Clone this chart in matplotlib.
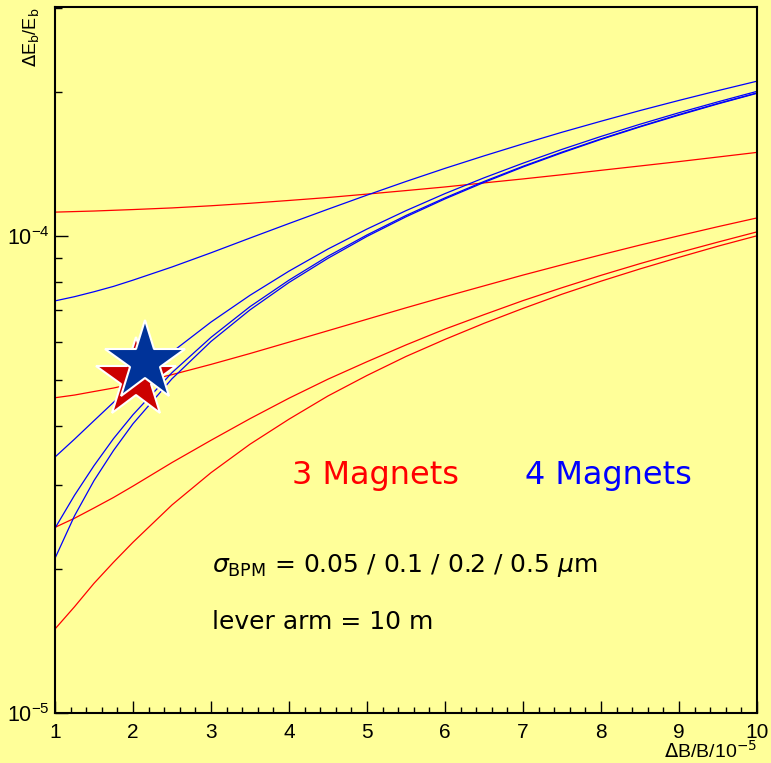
import matplotlib
matplotlib.use("Agg")
import matplotlib.pyplot as plt
from matplotlib.ticker import MultipleLocator, LogLocator, NullFormatter

plt.rcParams["font.family"] = ["Liberation Sans", "DejaVu Sans"]
plt.rcParams["mathtext.fontset"] = "dejavusans"

# dB/B in units of 1e-5
db = [1, 1.25, 1.5, 1.75, 2, 2.5, 3, 3.5, 4, 4.5, 5, 5.5, 6, 6.5, 7, 7.5, 8, 8.5, 9, 9.5, 10]

# dEb/Eb in units of 1e-5, sigma_BPM = 0.5 / 0.2 / 0.1 / 0.05 um
red_3mag = [
    [11.22, 11.25, 11.28, 11.32, 11.36, 11.45, 11.57, 11.71, 11.87, 12.04, 12.24,
     12.45, 12.67, 12.92, 13.17, 13.44, 13.73, 14.02, 14.32, 14.64, 14.97],
    [4.58, 4.64, 4.72, 4.80, 4.90, 5.12, 5.38, 5.67, 5.99, 6.33, 6.69,
     7.07, 7.46, 7.86, 8.28, 8.70, 9.13, 9.57, 10.01, 10.46, 10.91],
    [2.45, 2.56, 2.69, 2.83, 2.99, 3.35, 3.73, 4.14, 4.57, 5.01, 5.45,
     5.91, 6.38, 6.84, 7.32, 7.79, 8.27, 8.75, 9.23, 9.71, 10.20],
    [1.50, 1.67, 1.87, 2.07, 2.28, 2.73, 3.19, 3.66, 4.13, 4.62, 5.10,
     5.59, 6.07, 6.56, 7.05, 7.55, 8.04, 8.53, 9.02, 9.52, 10.01],
]
blue_4mag = [
    [7.31, 7.46, 7.64, 7.84, 8.08, 8.61, 9.22, 9.90, 10.62, 11.38, 12.18,
     13.01, 13.86, 14.72, 15.60, 16.50, 17.40, 18.32, 19.24, 20.17, 21.11],
    [3.44, 3.75, 4.10, 4.48, 4.87, 5.71, 6.60, 7.51, 8.44, 9.39, 10.34,
     11.30, 12.27, 13.24, 14.21, 15.19, 16.17, 17.15, 18.13, 19.11, 20.10],
    [2.44, 2.86, 3.30, 3.76, 4.22, 5.17, 6.13, 7.11, 8.08, 9.07, 10.05,
     11.04, 12.02, 13.01, 14.00, 14.99, 15.98, 16.97, 17.97, 18.96, 19.95],
    [2.11, 2.59, 3.07, 3.55, 4.04, 5.02, 6.01, 7.00, 7.99, 8.98, 9.98,
     10.97, 11.96, 12.95, 13.95, 14.94, 15.94, 16.93, 17.92, 18.92, 19.91],
]

bg = "#ffff99"
fig = plt.figure(figsize=(7.71, 7.63), dpi=100, facecolor=bg)
ax = fig.add_axes([55 / 771, 50 / 763, 702 / 771, 706 / 763], facecolor=bg)

for ys in red_3mag:
    ax.plot(db, [v * 1e-5 for v in ys], color="#ff0000", lw=0.9)
for ys in blue_4mag:
    ax.plot(db, [v * 1e-5 for v in ys], color="#0000ff", lw=0.9)

ax.set_yscale("log")
ax.set_xlim(1, 10)
ax.set_ylim(1e-5, 3.02e-4)

ax.xaxis.set_major_locator(MultipleLocator(1))
ax.xaxis.set_minor_locator(MultipleLocator(0.2))
ax.yaxis.set_major_locator(LogLocator(base=10))
ax.yaxis.set_minor_locator(LogLocator(base=10, subs=range(2, 10)))
ax.yaxis.set_minor_formatter(NullFormatter())
ax.tick_params(which="both", direction="in", top=False, right=False)
ax.tick_params(axis="x", which="major", length=9, width=1, pad=7, labelsize=15)
ax.tick_params(axis="x", which="minor", length=4.5, width=1)
ax.tick_params(axis="y", which="major", length=9.5, width=1, pad=4, labelsize=15.5)
ax.tick_params(axis="y", which="minor", length=5, width=1)
for s in ax.spines.values():
    s.set_linewidth(1.5)

# logo stars
ax.plot(0.115, 0.473, marker="*", ms=60, color="#cc0000", mec="white", mew=1.5,
        transform=ax.transAxes, clip_on=False)
ax.plot(0.128, 0.497, marker="*", ms=60, color="#003399", mec="white", mew=1.5,
        transform=ax.transAxes, clip_on=False)

ax.text(0.338, 0.336, "3 Magnets", color="#ff0000", fontsize=23, family="DejaVu Sans",
        va="center", ha="left", transform=ax.transAxes)
ax.text(0.670, 0.336, "4 Magnets", color="#0000ff", fontsize=23, family="DejaVu Sans",
        va="center", ha="left", transform=ax.transAxes)
ax.text(0.2236, 0.2096, r"$\sigma_{\rm BPM}$ = 0.05 / 0.1 / 0.2 / 0.5 $\mu$m",
        fontsize=18, family="DejaVu Sans", va="center", ha="left", transform=ax.transAxes)
ax.text(0.2236, 0.129, "lever arm = 10 m", fontsize=18, family="DejaVu Sans",
        va="center", ha="left", transform=ax.transAxes)

fig.text(0.040, 1 - 7 / 763, r"$\Delta$E$_{\rm b}$/E$_{\rm b}$", rotation=90,
         ha="center", va="top", fontsize=13)
fig.text(757 / 771, 1 - 751 / 763, r"$\Delta$B/B/10$^{-5}$",
         ha="right", va="center", fontsize=14)

fig.savefig("out.png", dpi=100, facecolor=bg)
